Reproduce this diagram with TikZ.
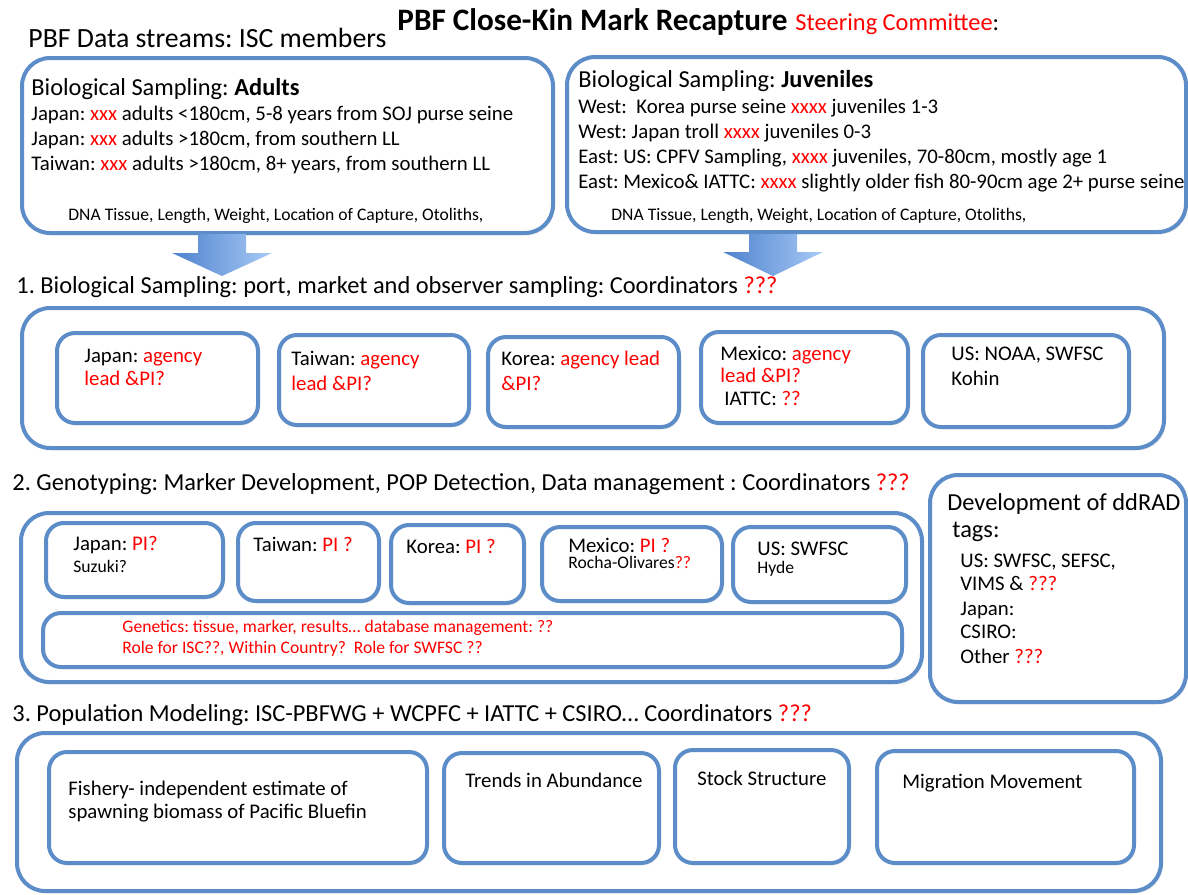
\documentclass[tikz,border=0pt]{standalone}
\usepackage{fontspec}
\setmainfont{Carlito}
\usepackage{tikz}
\usetikzlibrary{fit,shadows}
\frenchspacing

\definecolor{boxblue}{RGB}{92,141,200}
\definecolor{arrowdark}{RGB}{78,130,205}
\definecolor{arrowlight}{RGB}{168,202,246}
\newcommand{\rt}[1]{\textcolor{red}{#1}}

\begin{document}
\begin{tikzpicture}[x=0.5pt, y=-0.5pt,
	bigbox/.style={draw=boxblue, line width=2pt, rounded corners=14pt, fill=white, inner sep=0, drop shadow={shadow xshift=0.8pt, shadow yshift=-1.2pt, opacity=0.18}},
	smallbox/.style={bigbox, rounded corners=9pt},
	lbl/.style={anchor=base west, inner sep=0, font=\fontsize{10.4}{12}\selectfont},
	headlbl/.style={lbl, font=\fontsize{12.2}{14}\selectfont},
	smalllbl/.style={lbl, font=\fontsize{8.8}{10}\selectfont},
	blockarrow/.style={left color=arrowdark, right color=arrowlight, draw=none}
]
\path[use as bounding box, fill=white] (0,0) rectangle (1188,894);

% title line
\node[lbl, font=\fontsize{15.6}{18}\selectfont\bfseries] (title) at (397,31) {PBF Close-Kin Mark Recapture};
\node[headlbl] (steer) at (795,31) {\rt{Steering Committee}:};
\node[lbl, font=\fontsize{13.9}{16}\selectfont] (streams) at (28,47) {PBF Data streams: ISC members};

% data streams
\node[bigbox, fit={(22,58) (553,233)}] (adults) {};
\node[headlbl] (adh) at (31,95) {Biological Sampling: \textbf{Adults}};
\node[lbl] (ad1) at (31,120) {Japan: \rt{xxx} adults <180cm, 5-8 years from SOJ purse seine};
\node[lbl] (ad2) at (31,145) {Japan: \rt{xxx} adults >180cm, from southern LL};
\node[lbl] (ad3) at (31,170) {Taiwan: \rt{xxx} adults >180cm, 8+ years, from southern LL};
\node[smalllbl] (addna) at (68,220) {DNA Tissue, Length, Weight, Location of Capture, Otoliths,};

\node[bigbox, fit={(567,57) (1186,232)}] (juv) {};
\node[headlbl] (jvh) at (578,87) {Biological Sampling: \textbf{Juveniles}};
\node[lbl] (jv1) at (578,113) {West: \ Korea purse seine \rt{xxxx} juveniles 1-3};
\node[lbl] (jv2) at (578,138) {West: Japan troll \rt{xxxx} juveniles 0-3};
\node[lbl] (jv3) at (578,163) {East: US: CPFV Sampling, \rt{xxxx} juveniles, 70-80cm, mostly age 1};
\node[lbl] (jv4) at (578,188) {East: Mexico\& IATTC: \rt{xxxx} slightly older fish 80-90cm age 2+ purse seine};
\node[smalllbl] (jvdna) at (611,220) {DNA Tissue, Length, Weight, Location of Capture, Otoliths,};

\coordinate (adtail) at (222,234);
\coordinate (jvtail) at (773,234);
\shade[blockarrow] (adtail) ++(-24,0) -- ++(48,0) -- ++(0,19) -- ++(26,0) -- ++(-50,23) -- ++(-50,-23) -- ++(26,0) -- cycle;
\shade[blockarrow] (jvtail) ++(-24,0) -- ++(48,0) -- ++(0,18) -- ++(26,0) -- ++(-50,24) -- ++(-50,-24) -- ++(26,0) -- cycle;

% 1. biological sampling
\node[headlbl] (sec1h) at (16,293) {1. Biological Sampling: port, market and observer sampling: Coordinators \rt{???}};
\node[bigbox, fit={(22,308) (1164,448)}] (sec1) {};
\node[smallbox, fit={(57,333) (258,423)}] (bsjapan) {};
\node[smallbox, fit={(279,335) (469,425)}] (bstaiwan) {};
\node[smallbox, fit={(488,337) (679,427)}] (bskorea) {};
\node[smallbox, fit={(701,332) (908,423)}] (bsmexico) {};
\node[smallbox, fit={(923,335) (1129,427)}] (bsus) {};
\node[lbl] (bsjapan1) at (84,362) {Japan: \rt{agency}};
\node[lbl] (bsjapan2) at (84,385) {\rt{lead \&PI?}};
\node[lbl] (bstaiwan1) at (291,365) {Taiwan: \rt{agency}};
\node[lbl] (bstaiwan2) at (291,390) {\rt{lead \&PI?}};
\node[lbl] (bskorea1) at (501,365) {Korea: \rt{agency lead}};
\node[lbl] (bskorea2) at (501,390) {\rt{\&PI?}};
\node[lbl] (bsmexico1) at (720,360) {Mexico: \rt{agency}};
\node[lbl] (bsmexico2) at (720,382) {\rt{lead \&PI?}};
\node[lbl] (bsmexico3) at (724,405) {IATTC: \rt{??}};
\node[lbl] (bsus1) at (951,360) {US: NOAA, SWFSC};
\node[lbl] (bsus2) at (951,385) {Kohin};

% 2. genotyping
\node[headlbl] (sec2h) at (12,490) {2. Genotyping: Marker Development, POP Detection, Data management : Coordinators \rt{???}};
\node[bigbox, fit={(21,513) (922,682)}] (sec2) {};
\node[smallbox, fit={(46,523) (223,597)}] (gtjapan) {};
\node[smallbox, fit={(238,523) (379,601)}] (gttaiwan) {};
\node[smallbox, fit={(391,525) (524,603)}] (gtkorea) {};
\node[smallbox, fit={(542,527) (722,601)}] (gtmexico) {};
\node[smallbox, fit={(733,527) (906,602)}] (gtus) {};
\node[smallbox, fit={(43,613) (902,667)}] (gtdata) {};
\node[lbl] (gtjapan1) at (73,550) {Japan: \rt{PI?}};
\node[smalllbl] (gtjapan2) at (73,572) {Suzuki?};
\node[lbl] (gttaiwan1) at (253,551) {Taiwan: \rt{PI ?}};
\node[lbl] (gtkorea1) at (406,553) {Korea: \rt{PI ?}};
\node[lbl] (gtmexico1) at (568,552) {Mexico: \rt{PI ?}};
\node[smalllbl] (gtmexico2) at (568,568) {Rocha-Olivares\rt{??}};
\node[lbl] (gtus1) at (757,555) {US: SWFSC};
\node[smalllbl] (gtus2) at (757,573) {Hyde};
\node[smalllbl, red] (gtdata1) at (122,632) {Genetics: tissue, marker, results… database management: ??};
\node[smalllbl, red] (gtdata2) at (122,653) {Role for ISC??, Within Country? \ Role for SWFSC ??};

\node[bigbox, fit={(930,475) (1186,702)}] (ddrad) {};
\node[headlbl] (ddrad1) at (947,510) {Development of ddRAD};
\node[headlbl] (ddrad2) at (952,537) {tags:};
\node[lbl] (ddrad3) at (960,567) {US: SWFSC, SEFSC,};
\node[lbl] (ddrad4) at (960,590) {VIMS \& \rt{???}};
\node[lbl] (ddrad5) at (960,615) {Japan:};
\node[lbl] (ddrad6) at (960,638) {CSIRO:};
\node[lbl] (ddrad7) at (960,663) {Other \rt{???}};

% 3. population modeling
\node[headlbl] (sec3h) at (12,721) {3. Population Modeling: ISC-PBFWG + WCPFC + IATTC + CSIRO… Coordinators \rt{???}};
\node[bigbox, fit={(17,733) (1161,891)}] (sec3) {};
\node[smallbox, fit={(49,752) (427,863)}] (pmbiomass) {};
\node[smallbox, fit={(444,753) (659,863)}] (pmtrends) {};
\node[smallbox, fit={(675,750) (849,863)}] (pmstock) {};
\node[smallbox, fit={(877,751) (1134,863)}] (pmmigration) {};
\node[lbl] (pmbiomass1) at (68,795) {Fishery- independent estimate of};
\node[lbl] (pmbiomass2) at (68,818) {spawning biomass of Pacific Bluefin};
\node[lbl] (pmtrends1) at (465,787) {Trends in Abundance};
\node[lbl] (pmstock1) at (697,785) {Stock Structure};
\node[lbl] (pmmigration1) at (902,788) {Migration Movement};
\end{tikzpicture}
\end{document}
